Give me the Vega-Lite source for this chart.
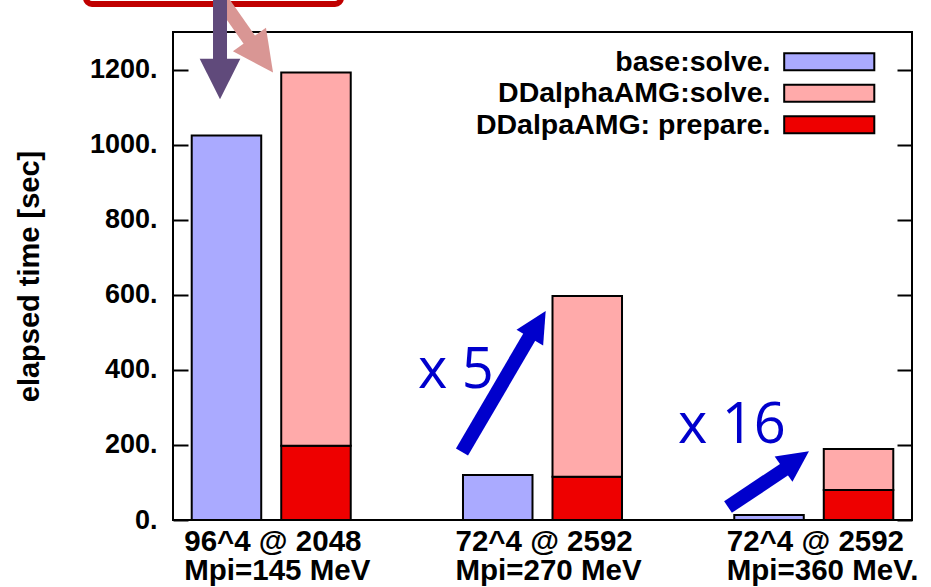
{
  "$schema": "https://vega.github.io/schema/vega-lite/v6.json",
  "width": 739,
  "height": 488,
  "autosize": {"type": "none"},
  "padding": {"left": 173, "top": 32, "right": 19, "bottom": 67},
  "background": "white",
  "config": {
    "view": {"stroke": "black", "strokeWidth": 2},
    "font": "Liberation Sans",
    "axis": {"labelColor": "black", "titleColor": "black", "labelFont": "Liberation Sans", "titleFont": "Liberation Sans"}
  },
  "resolve": {"scale": {"x": "independent"}, "axis": {"y": "independent"}},
  "layer": [
    {
      "data": {"values": [
        {"group": "96^4 @ 2048|Mpi=145 MeV", "bar": "base", "series": "base:solve", "value": 1024},
        {"group": "96^4 @ 2048|Mpi=145 MeV", "bar": "DDalphaAMG", "series": "DDalpaAMG: prepare", "value": 198},
        {"group": "96^4 @ 2048|Mpi=145 MeV", "bar": "DDalphaAMG", "series": "DDalphaAMG:solve", "value": 994},
        {"group": "72^4 @ 2592|Mpi=270 MeV", "bar": "base", "series": "base:solve", "value": 120},
        {"group": "72^4 @ 2592|Mpi=270 MeV", "bar": "DDalphaAMG", "series": "DDalpaAMG: prepare", "value": 115},
        {"group": "72^4 @ 2592|Mpi=270 MeV", "bar": "DDalphaAMG", "series": "DDalphaAMG:solve", "value": 482},
        {"group": "72^4 @ 2592|Mpi=360 MeV.", "bar": "base", "series": "base:solve", "value": 13},
        {"group": "72^4 @ 2592|Mpi=360 MeV.", "bar": "DDalphaAMG", "series": "DDalpaAMG: prepare", "value": 80},
        {"group": "72^4 @ 2592|Mpi=360 MeV.", "bar": "DDalphaAMG", "series": "DDalphaAMG:solve", "value": 109}
      ]},
      "transform": [
        {"stack": "value", "groupby": ["group", "bar"], "sort": [{"field": "series", "order": "ascending"}], "as": ["v0", "v1"]}
      ],
      "mark": {"type": "bar", "stroke": "black", "strokeWidth": 2, "opacity": 1},
      "encoding": {
        "x": {
          "field": "group", "type": "nominal",
          "sort": ["96^4 @ 2048|Mpi=145 MeV", "72^4 @ 2592|Mpi=270 MeV", "72^4 @ 2592|Mpi=360 MeV."],
          "scale": {"paddingInner": 0.4138, "paddingOuter": 0.069},
          "axis": {
            "orient": "bottom", "ticks": false, "domain": false, "grid": false, "title": null,
            "labelAngle": 0, "labelFontSize": 29.5, "labelFontWeight": "bold", "labelLineHeight": 29.5, "labelPadding": 7,
            "labelAlign": "left", "labelOffset": -87,
            "labelLimit": 0, "labelOverlap": false, "labelBound": false,
            "labelExpr": "split(datum.value, '|')"
          }
        },
        "xOffset": {
          "field": "bar", "type": "nominal", "sort": ["base", "DDalphaAMG"],
          "scale": {"paddingInner": 0.2235, "paddingOuter": 0}
        },
        "y": {
          "field": "v0", "type": "quantitative",
          "scale": {"domain": [0, 1300], "nice": false},
          "axis": {
            "orient": "left", "values": [0, 200, 400, 600, 800, 1000, 1200], "format": "d",
            "labelExpr": "datum.label + '.'",
            "tickSize": -15, "tickWidth": 2, "tickColor": "black", "domain": false, "grid": false,
            "labelFontSize": 27, "labelFontWeight": "bold", "labelPadding": 31,
            "title": "elapsed time [sec]", "titleFontSize": 29, "titleFontWeight": "bold", "titlePadding": 45
          }
        },
        "y2": {"field": "v1"},
        "color": {
          "field": "series", "type": "nominal",
          "scale": {"domain": ["base:solve", "DDalphaAMG:solve", "DDalpaAMG: prepare"], "range": ["#AAAAFF", "#FFAAAA", "#EE0000"]},
          "legend": {
            "orient": "none", "legendX": 611, "legendY": 15.5, "title": null, "padding": 0,
            "labelFont": "Liberation Sans", "labelFontSize": 28.5, "labelFontWeight": "bold", "labelColor": "black",
            "labelAlign": "right", "labelOffset": -73, "labelLimit": 0,
            "labelExpr": "datum.label + '.'",
            "symbolType": "M-5.3,-1L5.3,-1L5.3,1L-5.3,1Z", "symbolSize": 289,
            "symbolStrokeColor": "black", "symbolStrokeWidth": 2, "symbolOffset": 31, "symbolOpacity": 1,
            "rowPadding": 2.5
          }
        }
      }
    },
    {
      "layer": [
        {
          "data": {"values": [{"u0": -0.6876, "u1": 0.2525, "v0": 1374.7, "v1": 1493.3}]},
          "mark": {"type": "rect", "fill": "transparent", "stroke": "#C00000", "strokeWidth": 6, "cornerRadius": 6},
          "encoding": {
            "x": {"field": "u0", "type": "quantitative", "scale": {"domain": [-0.3668, 2.3576], "nice": false, "zero": false}, "axis": null},
            "x2": {"field": "u1"},
            "y": {"field": "v0", "type": "quantitative", "scale": {"domain": [0, 1300], "nice": false},
                  "axis": {"orient": "right", "labels": false, "values": [0, 200, 400, 600, 800, 1000, 1200], "tickSize": -15, "tickWidth": 2, "tickColor": "black", "domain": false, "grid": false, "title": null}},
            "y2": {"field": "v1"}
          }
        },
        {
          "data": {"values": [
            {"arrow": "pink", "u0": -0.1972, "v0": 1394.7, "u1": -0.0756, "v1": 1269.3},
            {"arrow": "purple", "u0": -0.1935, "v0": 1400, "u1": -0.1935, "v1": 1221.3},
            {"arrow": "blue5", "u0": 0.6986, "v0": 181.3, "u1": 0.9604, "v1": 504},
            {"arrow": "blue16", "u0": 1.6793, "v0": 34.7, "u1": 1.9005, "v1": 141.3}
          ]},
          "mark": {"type": "rule", "strokeWidth": 14, "strokeCap": "butt"},
          "encoding": {
            "x": {"field": "u0", "type": "quantitative", "scale": {"domain": [-0.3668, 2.3576], "nice": false, "zero": false}, "axis": null},
            "x2": {"field": "u1"},
            "y": {"field": "v0", "type": "quantitative", "scale": {"domain": [0, 1300], "nice": false},
                  "axis": {"orient": "right", "labels": false, "values": [0, 200, 400, 600, 800, 1000, 1200], "tickSize": -15, "tickWidth": 2, "tickColor": "black", "domain": false, "grid": false, "title": null}},
            "y2": {"field": "v1"},
            "stroke": {"field": "arrow", "type": "nominal", "scale": {"domain": ["pink", "purple", "blue5", "blue16"], "range": ["#D99694", "#604A7B", "#0000CC", "#0000CC"]}, "legend": null}
          }
        },
        {
          "data": {"values": [
            {"arrow": "pink", "u": -0.0415, "v": 1236, "dir": 144.5},
            {"arrow": "purple", "u": -0.1935, "v": 1174.7, "dir": 180}
          ]},
          "mark": {"type": "point", "shape": "M0,-1L1,1L-1,1Z", "filled": true, "opacity": 1, "strokeWidth": 0, "size": 1650},
          "encoding": {
            "x": {"field": "u", "type": "quantitative", "scale": {"domain": [-0.3668, 2.3576], "nice": false, "zero": false}, "axis": null},
            "y": {"field": "v", "type": "quantitative", "scale": {"domain": [0, 1300], "nice": false},
                  "axis": {"orient": "right", "labels": false, "values": [0, 200, 400, 600, 800, 1000, 1200], "tickSize": -15, "tickWidth": 2, "tickColor": "black", "domain": false, "grid": false, "title": null}},
            "fill": {"field": "arrow", "type": "nominal", "scale": {"domain": ["pink", "purple", "blue5", "blue16"], "range": ["#D99694", "#604A7B", "#0000CC", "#0000CC"]}, "legend": null},
            "angle": {"field": "dir", "type": "quantitative", "scale": null}
          }
        },
        {
          "data": {"values": [
            {"arrow": "blue5", "u": 0.9779, "v": 521.3, "dir": 30.8},
            {"arrow": "blue16", "u": 1.9309, "v": 159.3, "dir": 55}
          ]},
          "mark": {"type": "point", "shape": "M0,-1L1,1L-1,1Z", "filled": true, "opacity": 1, "strokeWidth": 0, "size": 961},
          "encoding": {
            "x": {"field": "u", "type": "quantitative", "scale": {"domain": [-0.3668, 2.3576], "nice": false, "zero": false}, "axis": null},
            "y": {"field": "v", "type": "quantitative", "scale": {"domain": [0, 1300], "nice": false},
                  "axis": {"orient": "right", "labels": false, "values": [0, 200, 400, 600, 800, 1000, 1200], "tickSize": -15, "tickWidth": 2, "tickColor": "black", "domain": false, "grid": false, "title": null}},
            "fill": {"field": "arrow", "type": "nominal", "scale": {"domain": ["pink", "purple", "blue5", "blue16"], "range": ["#D99694", "#604A7B", "#0000CC", "#0000CC"]}, "legend": null},
            "angle": {"field": "dir", "type": "quantitative", "scale": null}
          }
        },
        {
          "data": {"values": [
            {"label": "x 5", "u": 0.5364, "v": 352},
            {"label": "x 16", "u": 1.4949, "v": 205.3}
          ]},
          "mark": {"type": "text", "font": "Open Sans", "fontSize": 56, "align": "left", "baseline": "alphabetic", "color": "#0000CC"},
          "encoding": {
            "x": {"field": "u", "type": "quantitative", "scale": {"domain": [-0.3668, 2.3576], "nice": false, "zero": false}, "axis": null},
            "y": {"field": "v", "type": "quantitative", "scale": {"domain": [0, 1300], "nice": false},
                  "axis": {"orient": "right", "labels": false, "values": [0, 200, 400, 600, 800, 1000, 1200], "tickSize": -15, "tickWidth": 2, "tickColor": "black", "domain": false, "grid": false, "title": null}},
            "text": {"field": "label", "type": "nominal"}
          }
        }
      ]
    }
  ]
}
